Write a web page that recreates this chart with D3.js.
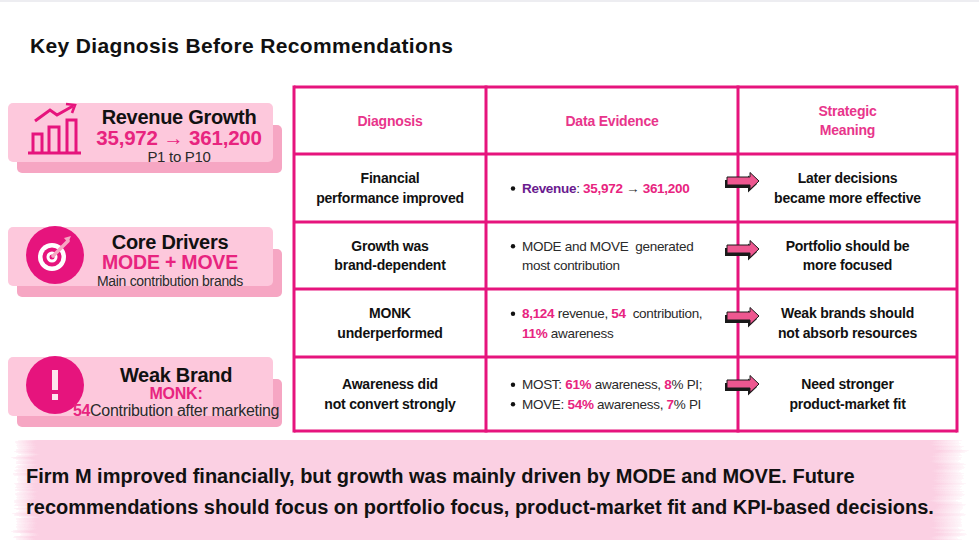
<!DOCTYPE html>
<html>
<head>
<meta charset="utf-8">
<script src="https://cdn.jsdelivr.net/npm/d3@7.9.0/dist/d3.min.js"></script>
<style>
  html, body { margin: 0; padding: 0; background: #fff; }
  svg { display: block; font-family: "Liberation Sans", Arial, sans-serif; }
  text { white-space: pre; }
</style>
</head>
<body>
<div id="chart"></div>
<script>
// ---- content ----
const title = "Key Diagnosis Before Recommendations";

const headers = [["Diagnosis"], ["Data Evidence"], ["Strategic", "Meaning"]];

const diagnosis = [
  ["Financial", "performance improved"],
  ["Growth was", "brand-dependent"],
  ["MONK", "underperformed"],
  ["Awareness did", "not convert strongly"]
];

// each line: [bullet?, segments]; segment style: n normal, p pink bold, v purple bold
const evidence = [
  [[true, [["Revenue", "v"], [": ", "n"], ["35,972", "p"], [" \u2192 ", "n"], ["361,200", "p"]]]],
  [[true, [["MODE and MOVE  generated", "n"]]], [false, [["most contribution", "n"]]]],
  [[true, [["8,124", "p"], [" revenue, ", "n"], ["54", "p"], ["  contribution,", "n"]]],
   [false, [["11%", "p"], [" awareness", "n"]]]],
  [[true, [["MOST: ", "n"], ["61%", "p"], [" awareness, ", "n"], ["8", "p"], ["% PI;", "n"]]],
   [true, [["MOVE: ", "n"], ["54%", "p"], [" awareness, ", "n"], ["7", "p"], ["% PI", "n"]]]]
];

const meaning = [
  ["Later decisions", "became more effective"],
  ["Portfolio should be", "more focused"],
  ["Weak brands should", "not absorb resources"],
  ["Need stronger", "product-market fit"]
];

const cardTitles = ["Revenue Growth", "Core Drivers", "Weak Brand"];
const cardHighlights = ["35,972 \u2192 361,200", "MODE + MOVE", "MONK:"];
const cardSubs = [
  [["P1 to P10", "n"]],
  [["Main contribution brands", "n"]],
  [["54", "p"], ["Contribution after marketing", "n"]]
];
const cardIcons = ["bars", "target", "alert"];

const summary = [
  "Firm M improved financially, but growth was mainly driven by MODE and MOVE. Future",
  "recommendations should focus on portfolio focus, product-market fit and KPI-based decisions."
];

// ---- styling ----
const PINK = "#e6147d";
const HL = "#e8247f";
const HEAD = "#e8358b";
const PURPLE = "#6a1b8f";
const INK = "#111";
const TXT = "#2a2a2a";
const CARD_FRONT = "#fdc8dc";
const CARD_BACK = "#f6a6c3";
const BAND = "#fbd0e3";

const width = 979, height = 551;

const svg = d3.select("#chart").append("svg")
  .attr("width", width).attr("height", height)
  .attr("viewBox", `0 0 ${width} ${height}`);

const defs = svg.append("defs");

// table scales (piecewise linear band edges)
const xCol = d3.scaleLinear().domain([0, 1, 2, 3]).range([294, 486, 738, 957]);
const yRow = d3.scaleLinear().domain([0, 1, 2, 3, 4, 5]).range([87, 154, 222, 289, 357, 431]);
const lineGap = 19.5;

function segStyle(tspan, style) {
  if (style === "p") tspan.attr("fill", HL).attr("font-weight", "bold");
  else if (style === "v") tspan.attr("fill", PURPLE).attr("font-weight", "bold");
  else if (style === "b") tspan.attr("fill", INK).attr("font-weight", "bold");
  else tspan.attr("fill", TXT).attr("font-weight", "normal");
}

function richText(g, x, y, segs, size, anchor) {
  const t = g.append("text")
    .attr("x", x).attr("y", y)
    .attr("font-size", size)
    .attr("text-anchor", anchor || "start");
  segs.forEach(([s, st]) => segStyle(t.append("tspan").text(s), st));
  return t;
}

// top hairline
svg.append("rect").attr("x", 0).attr("y", 0).attr("width", width).attr("height", 2).attr("fill", "#ededf1");

// title
svg.append("text")
  .attr("x", 30).attr("y", 53)
  .attr("font-size", 21).attr("font-weight", "bold")
  .attr("letter-spacing", 0.35)
  .attr("fill", INK)
  .text(title);

// ---- left cards ----
const cardTop = d3.scaleOrdinal().domain(d3.range(3)).range([103, 227, 357]);
const cardH = 59, cardX = 8, cardW = 265;
const cardCenter = [179, 170, 176];
const titleDy = [21, 22, 25];
const hlSize = [20.5, 19.5, 16];
const subSize = [15, 14, 16];

cardTitles.forEach((t, i) => {
  const top = cardTop(i);
  const g = svg.append("g").attr("class", "card");
  g.append("rect").attr("x", cardX + 9).attr("y", top + 22)
    .attr("width", cardW).attr("height", cardH - 11).attr("rx", 5).attr("fill", CARD_BACK);
  g.append("rect").attr("x", cardX).attr("y", top)
    .attr("width", cardW).attr("height", cardH).attr("rx", 5).attr("fill", CARD_FRONT);

  drawIcon(g, cardIcons[i], 55, top + 28);

  const cx = cardCenter[i];
  g.append("text").attr("x", cx).attr("y", top + titleDy[i])
    .attr("text-anchor", "middle").attr("font-size", 20).attr("font-weight", "bold")
    .attr("letter-spacing", -0.3).attr("fill", INK).text(t);
  g.append("text").attr("x", cx).attr("y", top + 42)
    .attr("text-anchor", "middle").attr("font-size", hlSize[i]).attr("font-weight", "bold")
    .attr("letter-spacing", -0.2).attr("fill", HL).text(cardHighlights[i]);
  richText(g, cx, top + 58.5, cardSubs[i], subSize[i], "middle").attr("letter-spacing", -0.3);
});

function drawIcon(g, kind, cx, cy) {
  if (kind === "bars") {
    const ig = g.append("g").attr("fill", "none").attr("stroke", PINK)
      .attr("stroke-width", 3).attr("stroke-linejoin", "miter");
    const base = cy + 22;
    [[33, 42, 134], [49, 59, 127], [67, 76, 120]].forEach(([x0, x1, top]) => {
      ig.append("path").attr("d", `M${x0},${base} V${top} H${x1} V${base}`);
    });
    ig.append("line").attr("x1", 28).attr("x2", 81).attr("y1", base).attr("y2", base);
    ig.append("path").attr("d", "M35,121 L50,110 L57,115 L73,106");
    ig.append("path").attr("d", "M66,104 L75,105 L72,113").attr("stroke-width", 2.6);
  } else if (kind === "target") {
    g.append("circle").attr("cx", cx).attr("cy", cy).attr("r", 29).attr("fill", PINK);
    g.append("circle").attr("cx", cx - 3).attr("cy", cy + 2).attr("r", 14).attr("fill", "#fff");
    g.append("circle").attr("cx", cx - 3).attr("cy", cy + 2).attr("r", 9.5).attr("fill", PINK);
    g.append("circle").attr("cx", cx - 3).attr("cy", cy + 2).attr("r", 5.5).attr("fill", "#fff");
    g.append("circle").attr("cx", cx - 3).attr("cy", cy + 2).attr("r", 2.5).attr("fill", PINK);
    g.append("line").attr("x1", cx - 2).attr("y1", cy + 1).attr("x2", cx + 13).attr("y2", cy - 14)
      .attr("stroke", CARD_BACK).attr("stroke-width", 3.5).attr("stroke-linecap", "round");
    g.append("path").attr("d", `M${cx + 9},${cy - 17} L${cx + 16},${cy - 19} L${cx + 13},${cy - 12} Z`)
      .attr("fill", CARD_BACK);
  } else {
    g.append("circle").attr("cx", cx).attr("cy", cy).attr("r", 29).attr("fill", PINK);
    g.append("rect").attr("x", cx - 3).attr("y", cy - 15).attr("width", 6).attr("height", 20)
      .attr("fill", "#fde3ee");
    g.append("rect").attr("x", cx - 3).attr("y", cy + 9).attr("width", 6).attr("height", 6)
      .attr("fill", "#fde3ee");
  }
}

// ---- table ----
const table = svg.append("g").attr("class", "table");
table.append("rect").attr("x", xCol(0)).attr("y", yRow(0))
  .attr("width", xCol(3) - xCol(0)).attr("height", yRow(5) - yRow(0)).attr("fill", "#fff");

function cellLines(g, lines, col, row, fill, size, weight) {
  const cx = (xCol(col) + xCol(col + 1)) / 2;
  const cy = (yRow(row) + yRow(row + 1)) / 2;
  lines.forEach((l, k) => {
    g.append("text")
      .attr("x", cx)
      .attr("y", cy + (k - (lines.length - 1) / 2) * lineGap + 5)
      .attr("text-anchor", "middle")
      .attr("font-size", size).attr("font-weight", weight)
      .attr("letter-spacing", -0.2)
      .attr("fill", fill)
      .text(l);
  });
}

headers.forEach((h, c) => cellLines(table, h, c, 0, HEAD, 14, "bold"));
diagnosis.forEach((d, r) => cellLines(table, d, 0, r + 1, INK, 14, "bold"));
meaning.forEach((d, r) => cellLines(table, d, 2, r + 1, INK, 14, "bold"));

evidence.forEach((lines, r) => {
  const cy = (yRow(r + 1) + yRow(r + 2)) / 2;
  lines.forEach(([bullet, segs], k) => {
    const y = cy + (k - (lines.length - 1) / 2) * lineGap + 5;
    if (bullet) table.append("circle").attr("cx", xCol(1) + 27).attr("cy", y - 4.5).attr("r", 2.2).attr("fill", INK);
    richText(table, xCol(1) + 36, y, segs, 13.5).attr("letter-spacing", -0.3);
  });
});

// grid lines
const grid = table.append("g").attr("stroke", PINK).attr("stroke-width", 3);
d3.range(6).forEach(r => grid.append("line")
  .attr("x1", xCol(0)).attr("x2", xCol(3)).attr("y1", yRow(r)).attr("y2", yRow(r)));
d3.range(4).forEach(c => grid.append("line")
  .attr("x1", xCol(c)).attr("x2", xCol(c)).attr("y1", yRow(0) - 1.5).attr("y2", yRow(5) + 1.5));

// arrows between evidence and meaning
const arrowPath = "M-16,-4 H7 V-8.5 L16,0 L7,8.5 V4 H-16 Z";
d3.range(4).forEach(r => {
  const ax = xCol(2) + 5, ay = yRow(r + 1) + 27;
  const ag = table.append("g").attr("transform", `translate(${ax},${ay})`);
  ag.append("path").attr("d", arrowPath).attr("transform", "translate(-2,3)").attr("fill", "#1a1a1a");
  ag.append("path").attr("d", arrowPath).attr("fill", "#ee5790")
    .attr("stroke", "#1a1a1a").attr("stroke-width", 1);
});

// ---- summary band (brushed left / right ends) ----
const filt = defs.append("filter").attr("id", "brush")
  .attr("x", "-5%").attr("y", "0%").attr("width", "110%").attr("height", "100%");
filt.append("feTurbulence").attr("type", "fractalNoise").attr("baseFrequency", "0.002 0.3")
  .attr("numOctaves", 2).attr("seed", 4).attr("result", "noise");
// freeze alpha at 0.5 so the vertical displacement is zero
filt.append("feColorMatrix").attr("in", "noise").attr("type", "matrix")
  .attr("values", "1 0 0 0 0  0 1 0 0 0  0 0 1 0 0  0 0 0 0 0.5").attr("result", "noiseX");
filt.append("feDisplacementMap").attr("in", "SourceGraphic").attr("in2", "noiseX")
  .attr("scale", 24).attr("xChannelSelector", "R").attr("yChannelSelector", "A");

const grad = defs.append("linearGradient").attr("id", "bandFade")
  .attr("x1", 0).attr("x2", 1).attr("y1", 0).attr("y2", 0);
[[0, 0.2], [0.02, 1], [0.97, 1], [1, 0.15]].forEach(([o, a]) =>
  grad.append("stop").attr("offset", o).attr("stop-color", BAND).attr("stop-opacity", a));

svg.append("rect").attr("x", 16).attr("y", 440).attr("width", 946).attr("height", 100)
  .attr("fill", "url(#bandFade)").attr("filter", "url(#brush)");
svg.append("rect").attr("x", 40).attr("y", 440).attr("width", 890).attr("height", 100)
  .attr("fill", BAND);

summary.forEach((s, i) => {
  svg.append("text")
    .attr("x", 26).attr("y", 483 + i * 31)
    .attr("font-size", 20).attr("font-weight", "bold")
    .attr("letter-spacing", 0)
    .attr("fill", INK)
    .text(s);
});
</script>
</body>
</html>
